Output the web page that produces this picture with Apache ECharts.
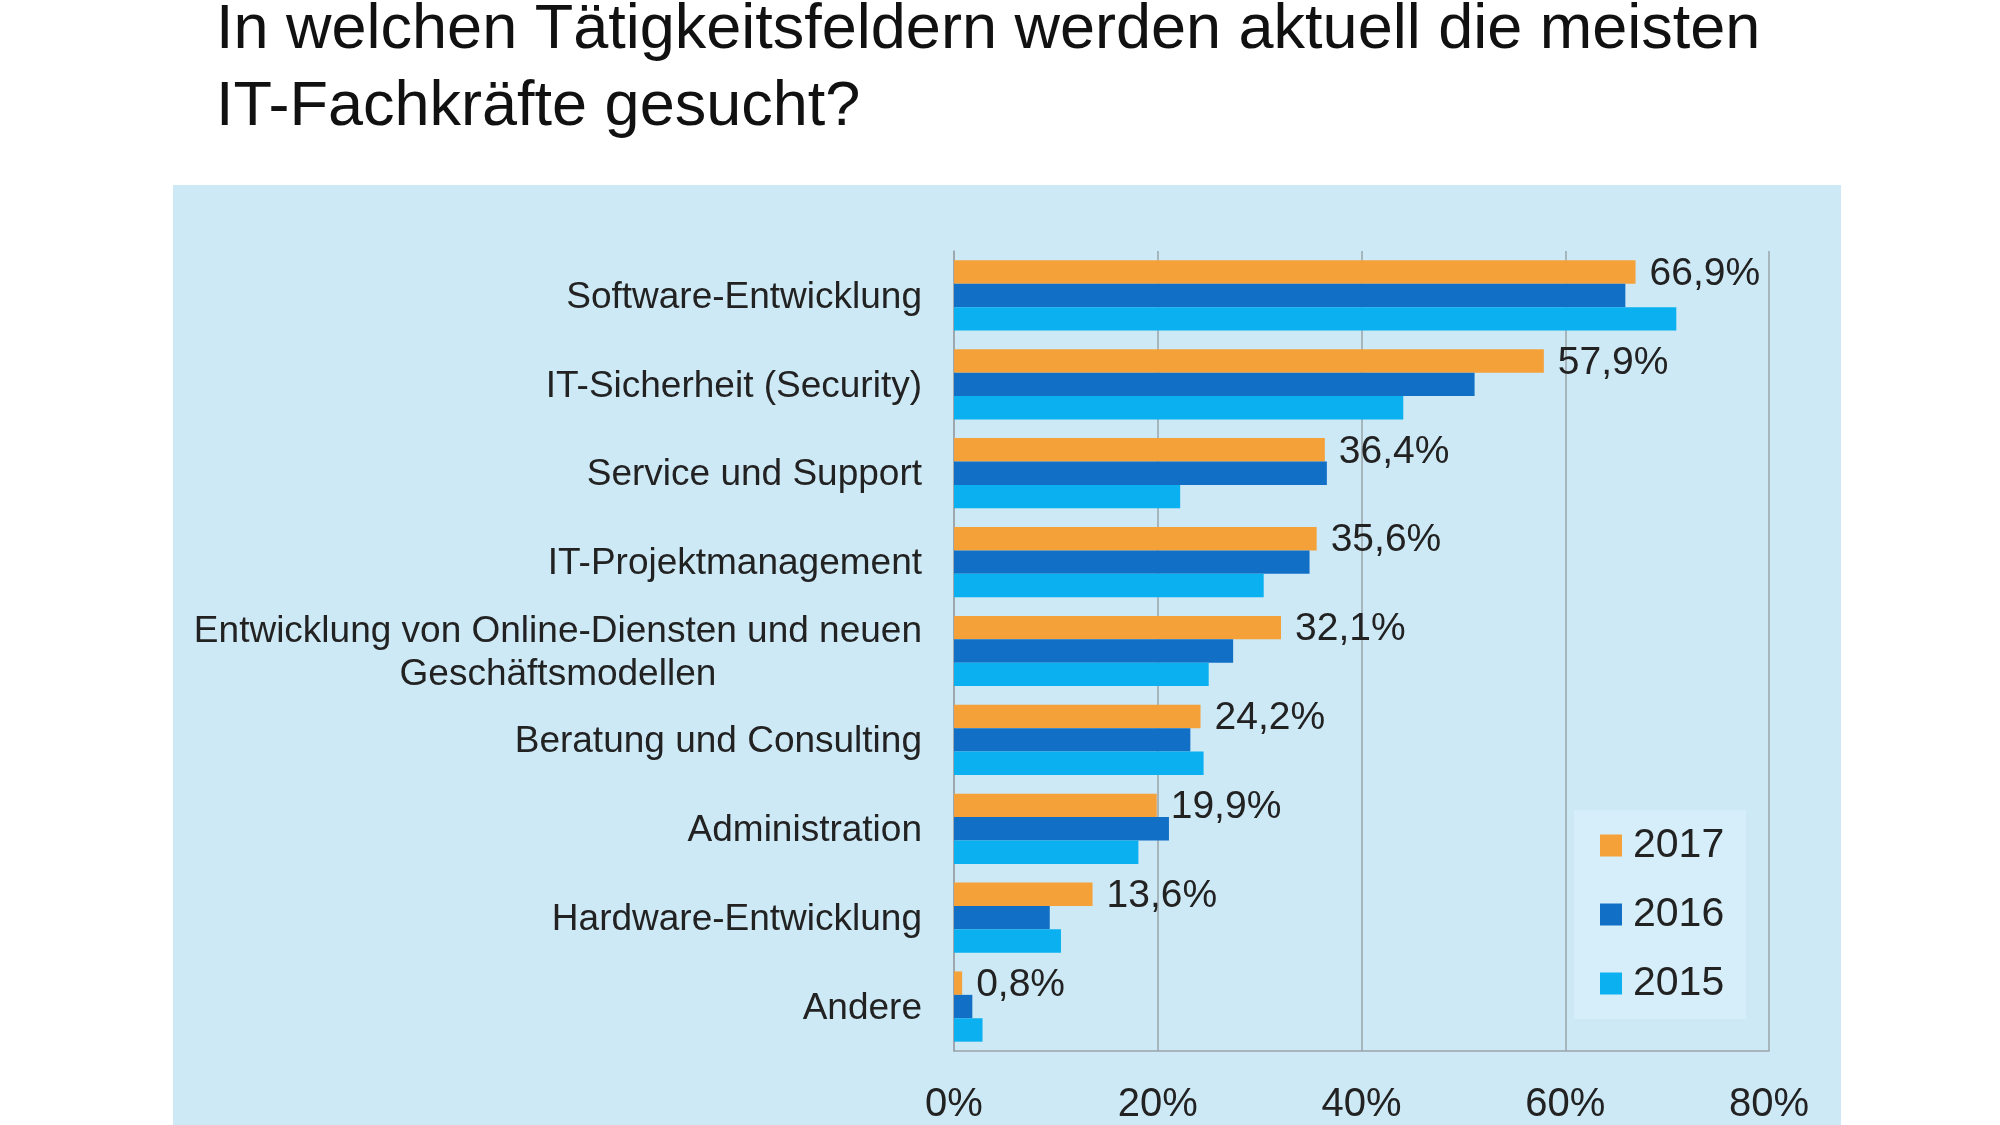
<!DOCTYPE html>
<html>
<head>
<meta charset="utf-8">
<script src="https://cdn.jsdelivr.net/npm/echarts@6/dist/echarts.min.js"></script>
<style>
  html, body { margin: 0; padding: 0; background: #fff; }
  #chart { width: 2000px; height: 1125px; }
</style>
</head>
<body>
<div id="chart"></div>
<script>
// Tätigkeitsfelder (von oben nach unten)
var categories = [
    'Software-Entwicklung',
    'IT-Sicherheit (Security)',
    'Service und Support',
    'IT-Projektmanagement',
    'Entwicklung von Online-Diensten und neuen\nGeschäftsmodellen',
    'Beratung und Consulting',
    'Administration',
    'Hardware-Entwicklung',
    'Andere'
];
// Werte in Prozent
var values2017 = [66.9, 57.9, 36.4, 35.6, 32.1, 24.2, 19.9, 13.6, 0.8];
var values2016 = [65.9, 51.1, 36.6, 34.9, 27.4, 23.2, 21.1, 9.4, 1.8];
var values2015 = [70.9, 44.1, 22.2, 30.4, 25.0, 24.5, 18.1, 10.5, 2.8];
var xTicks = [0, 20, 40, 60, 80];

var textColor = '#222222';
var gridColor = '#9aa3a8';

function fmtPercent(v) {
    return v.toFixed(1).replace('.', ',') + '%';
}

var chart = echarts.init(document.getElementById('chart'));
var option = {
    backgroundColor: '#ffffff',
    title: {
        text: 'In welchen Tätigkeitsfeldern werden aktuell die meisten\nIT-Fachkräfte gesucht?',
        left: 211,
        top: -13,
        textStyle: {
            fontFamily: 'Liberation Sans',
            fontSize: 63,
            fontWeight: 'normal',
            lineHeight: 77,
            color: '#111111'
        }
    },
    graphic: [{
        type: 'rect',
        z: -10,
        silent: true,
        shape: { x: 173, y: 185, width: 1668, height: 960 },
        style: { fill: '#cde9f5' }
    }],
    legend: {
        data: ['2017', '2016', '2015'],
        orient: 'vertical',
        left: 1574,
        top: 810,
        padding: [15, 22, 15, 26],
        backgroundColor: '#d5eef9',
        icon: 'rect',
        itemWidth: 22,
        itemHeight: 22,
        itemGap: 28,
        textStyle: {
            fontFamily: 'Liberation Sans',
            fontSize: 41,
            color: textColor,
            padding: [0, 0, 0, 6]
        }
    },
    grid: {
        left: 954,
        right: 231,
        top: 251,
        bottom: 71,
        containLabel: false
    },
    xAxis: {
        type: 'value',
        min: xTicks[0],
        max: xTicks[xTicks.length - 1],
        interval: 20,
        axisLine: { show: true, lineStyle: { color: gridColor, width: 1.5 } },
        axisTick: { show: false },
        splitLine: { show: true, lineStyle: { color: gridColor, width: 1.5 } },
        axisLabel: {
            formatter: '{value}%',
            fontFamily: 'Liberation Sans',
            fontSize: 40,
            color: textColor,
            margin: 34
        }
    },
    yAxis: {
        type: 'category',
        inverse: true,
        data: categories,
        axisLine: { show: true, lineStyle: { color: gridColor, width: 1.5 } },
        axisTick: { show: false },
        axisLabel: {
            margin: 32,
            fontFamily: 'Liberation Sans',
            fontSize: 37,
            color: textColor,
            formatter: function (v) {
                return v.split('\n').map(function (s) { return '{c|' + s + '}'; }).join('\n');
            },
            rich: {
                c: {
                    align: 'center',
                    fontFamily: 'Liberation Sans',
                    fontSize: 37,
                    lineHeight: 43,
                    color: textColor,
                    padding: [4, 0, 0, 0]
                }
            }
        }
    },
    series: [
        {
            name: '2017',
            type: 'bar',
            data: values2017,
            barGap: '0%',
            barCategoryGap: '21%',
            itemStyle: { color: '#f5a13a' },
            label: {
                show: true,
                position: 'right',
                distance: 14,
                fontFamily: 'Liberation Sans',
                fontSize: 39,
                color: textColor,
                offset: [0, 2],
                formatter: function (p) { return fmtPercent(p.value); }
            }
        },
        {
            name: '2016',
            type: 'bar',
            data: values2016,
            barGap: '0%',
            barCategoryGap: '21%',
            itemStyle: { color: '#1170c6' }
        },
        {
            name: '2015',
            type: 'bar',
            data: values2015,
            barGap: '0%',
            barCategoryGap: '21%',
            itemStyle: { color: '#0ab0ef' }
        }
    ]
};
chart.setOption(option);
</script>
</body>
</html>
